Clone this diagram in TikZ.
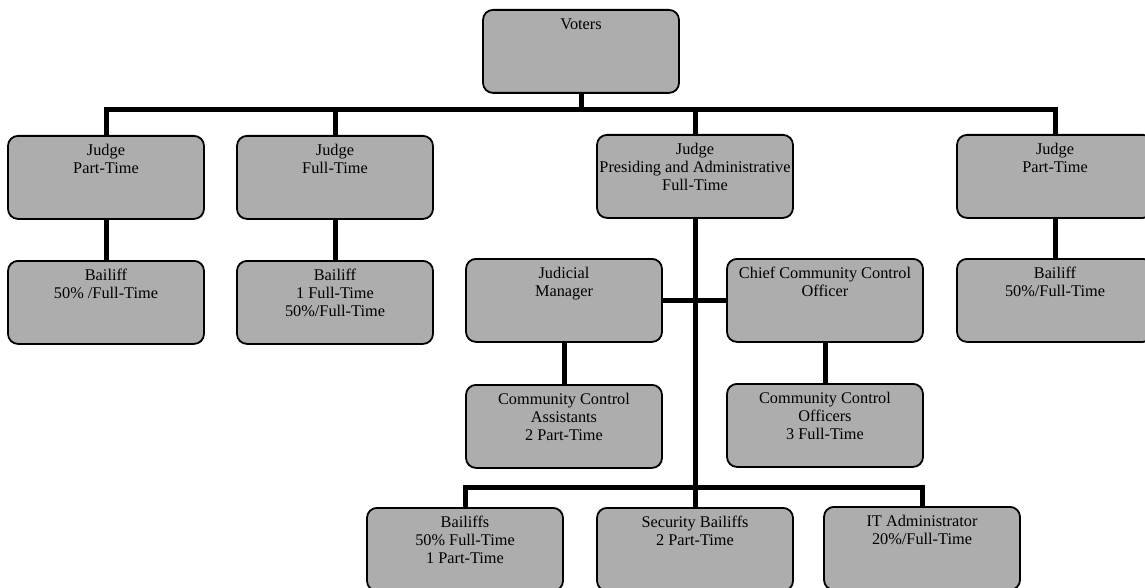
\documentclass[tikz,border=0pt]{standalone}
\usepackage{fontspec}
\setmainfont{Liberation Serif}
\newcommand{\bxt}[1]{\parbox[c][83pt][t]{196pt}{\centering\rule{0pt}{20pt}#1}}
\begin{document}
\begin{tikzpicture}[x=1pt,y=-1pt,
  box/.style={draw=black, line width=1.8pt, rounded corners=10pt, fill=black!32,
    minimum width=196pt, minimum height=83pt, inner sep=0pt, anchor=north,
    font=\fontsize{16.3}{18}\selectfont},
  conn/.style={draw=black, line width=5pt}]
\useasboundingbox (0,0) rectangle (1145,588);
\node[box] (voters) at (581,9) {\bxt{Voters}};
\node[box] (jl) at (106,135) {\bxt{Judge\\Part-Time}};
\node[box] (jf) at (335,135) {\bxt{Judge\\Full-Time}};
\node[box] (jp) at (695,134) {\bxt{Judge\\Presiding and Administrative\\Full-Time}};
\node[box] (jr) at (1055,134) {\bxt{Judge\\Part-Time}};
\node[box] (bl) at (106,260) {\bxt{Bailiff\\50\% /Full-Time}};
\node[box] (bf) at (335,260) {\bxt{Bailiff\\1 Full-Time\\50\%/Full-Time}};
\node[box] (br) at (1055,258) {\bxt{Bailiff\\50\%/Full-Time}};
\node[box] (jm) at (564,258) {\bxt{Judicial\\Manager}};
\node[box] (cc) at (825,258) {\bxt{Chief Community Control\\Officer}};
\node[box] (cca) at (564,384) {\bxt{Community Control\\Assistants\\2 Part-Time}};
\node[box] (cco) at (825,383) {\bxt{Community Control\\Officers\\3 Full-Time}};
\node[box] (bs) at (465,507) {\bxt{Bailiffs\\50\% Full-Time\\1 Part-Time}};
\node[box] (sb) at (695,507) {\bxt{Security Bailiffs\\2 Part-Time}};
\node[box] (it) at (922,506) {\bxt{IT Administrator\\20\%/Full-Time}};
\coordinate (bar1) at (0,110);
\coordinate (bar2) at (0,487);
\draw[conn] (jl.north) -- (jl.north |- bar1) -- (jr.north |- bar1) -- (jr.north);
\draw[conn] (voters.south) -- (voters.south |- bar1);
\draw[conn] (jf.north) -- (jf.north |- bar1);
\draw[conn] (jp.north) -- (jp.north |- bar1);
\draw[conn] (jl.south) -- (bl.north);
\draw[conn] (jf.south) -- (bf.north);
\draw[conn] (jr.south) -- (br.north);
\draw[conn] (jp.south) -- (sb.north);
\draw[conn] (jm.east) -- (cc.west);
\draw[conn] (jm.south) -- (cca.north);
\draw[conn] (cc.south) -- (cco.north);
\draw[conn] (bs.north) -- (bs.north |- bar2) -- (it.north |- bar2) -- (it.north);
\end{tikzpicture}
\end{document}
